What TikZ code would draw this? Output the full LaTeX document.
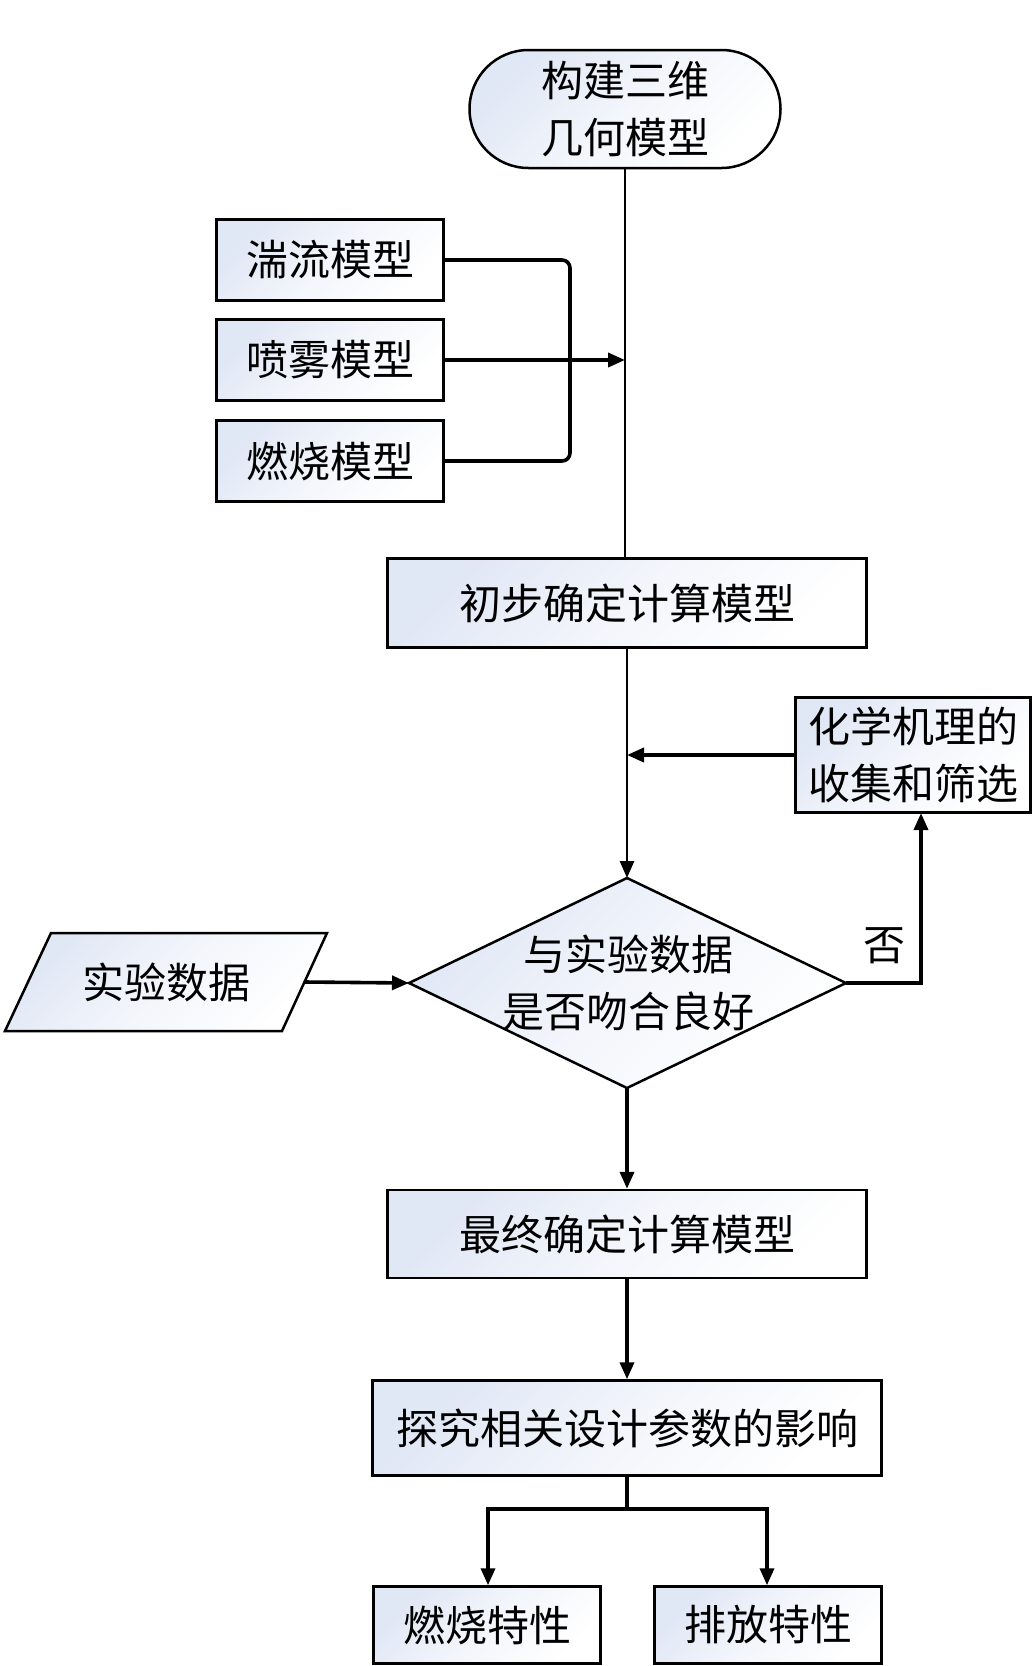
\documentclass[tikz,border=0pt]{standalone}
\usepackage{fontspec}
\setmainfont{Noto Sans CJK SC}
\usetikzlibrary{arrows.meta}
\definecolor{shadeblue}{RGB}{224,231,245}
\tikzset{
  boxfill/.style={top color=shadeblue, bottom color=white, middle color=white!60!shadeblue, shading angle=45},
  box/.style={draw=black, line width=2.5pt, boxfill, inner sep=0pt, align=center,
    font=\fontsize{42}{57}\selectfont},
  lbl/.style={inner sep=0pt, align=center, font=\fontsize{42}{57}\selectfont},
  conn/.style={line width=3.6pt, draw=black},
  arr/.style={conn, -{Triangle[length=17pt,width=14pt]}},
}
\begin{document}
\begin{tikzpicture}[x=1pt,y=-1pt]
\useasboundingbox (0,0) rectangle (1035,1666);
\fill[white] (0,0) rectangle (1035,1666);

% start terminal
\node[box, rounded corners=59pt, minimum width=311pt, minimum height=118pt] (start) at (625,109) {构建三维\\几何模型};

% model boxes
\node[box, minimum width=227pt, minimum height=81pt] (turb) at (330,260) {湍流模型};
\node[box, minimum width=227pt, minimum height=81pt] (spray) at (330,360) {喷雾模型};
\node[box, minimum width=227pt, minimum height=81pt] (comb) at (330,461) {燃烧模型};

% preliminary
\node[box, minimum width=479pt, minimum height=89pt] (prelim) at (627,603) {初步确定计算模型};

% chem
\node[box, minimum width=235pt, minimum height=115pt] (chem) at (913,755) {化学机理的\\收集和筛选};

% diamond
\coordinate (dT) at (627,878);
\coordinate (dB) at (627,1088);
\coordinate (dL) at (409,983);
\coordinate (dR) at (846,983);
\path[draw=black, line width=2.5pt, boxfill] (dT) -- (dR) -- (dB) -- (dL) -- cycle;
\node[lbl] (dia) at (628,983) {与实验数据\\是否吻合良好};

% parallelogram
\coordinate (pTL) at (51,933);
\coordinate (pTR) at (327,933);
\coordinate (pBR) at (282,1031);
\coordinate (pBL) at (5,1031);
\coordinate (pE) at (305,982);
\path[draw=black, line width=2.5pt, boxfill] (pTL) -- (pTR) -- (pBR) -- (pBL) -- cycle;
\node[lbl] (exp) at (166,982) {实验数据};

% no label
\node[lbl] (no) at (884,946) {否};

% final
\node[box, minimum width=479pt, minimum height=88pt] (final) at (627,1234) {最终确定计算模型};
% explore
\node[box, minimum width=509pt, minimum height=95pt] (explore) at (627,1428) {探究相关设计参数的影响};
% outputs
\node[box, minimum width=227pt, minimum height=77pt] (combchar) at (487,1625) {燃烧特性};
\node[box, minimum width=227pt, minimum height=77pt] (emischar) at (768,1625) {排放特性};

% connectors
\draw[conn, line width=2.8pt] (start.south) -- (prelim.north -| start.south);
\draw[conn, rounded corners=8pt] (turb.east) -- (570,260) -- (570,461) -- (comb.east);
\draw[arr] (spray.east) -- (spray.east -| start.south);
\draw[arr, line width=2.8pt] (prelim.south) -- (dT);
\draw[arr] (chem.west) -- (chem.west -| prelim.south);
\draw[arr] (dR) -- (921,983) -- (921,813);
\draw[arr] (pE) -- (dL);
\draw[arr] (dB) -- (final.north);
\draw[arr] (final.south) -- (explore.north);
\coordinate (br) at (627,1509);
\draw[conn] (explore.south) -- (br);
\draw[arr] (br) -- (488,1509) -- (combchar.north -| 488,0);
\draw[arr] (br) -- (767,1509) -- (emischar.north -| 767,0);
\end{tikzpicture}
\end{document}
